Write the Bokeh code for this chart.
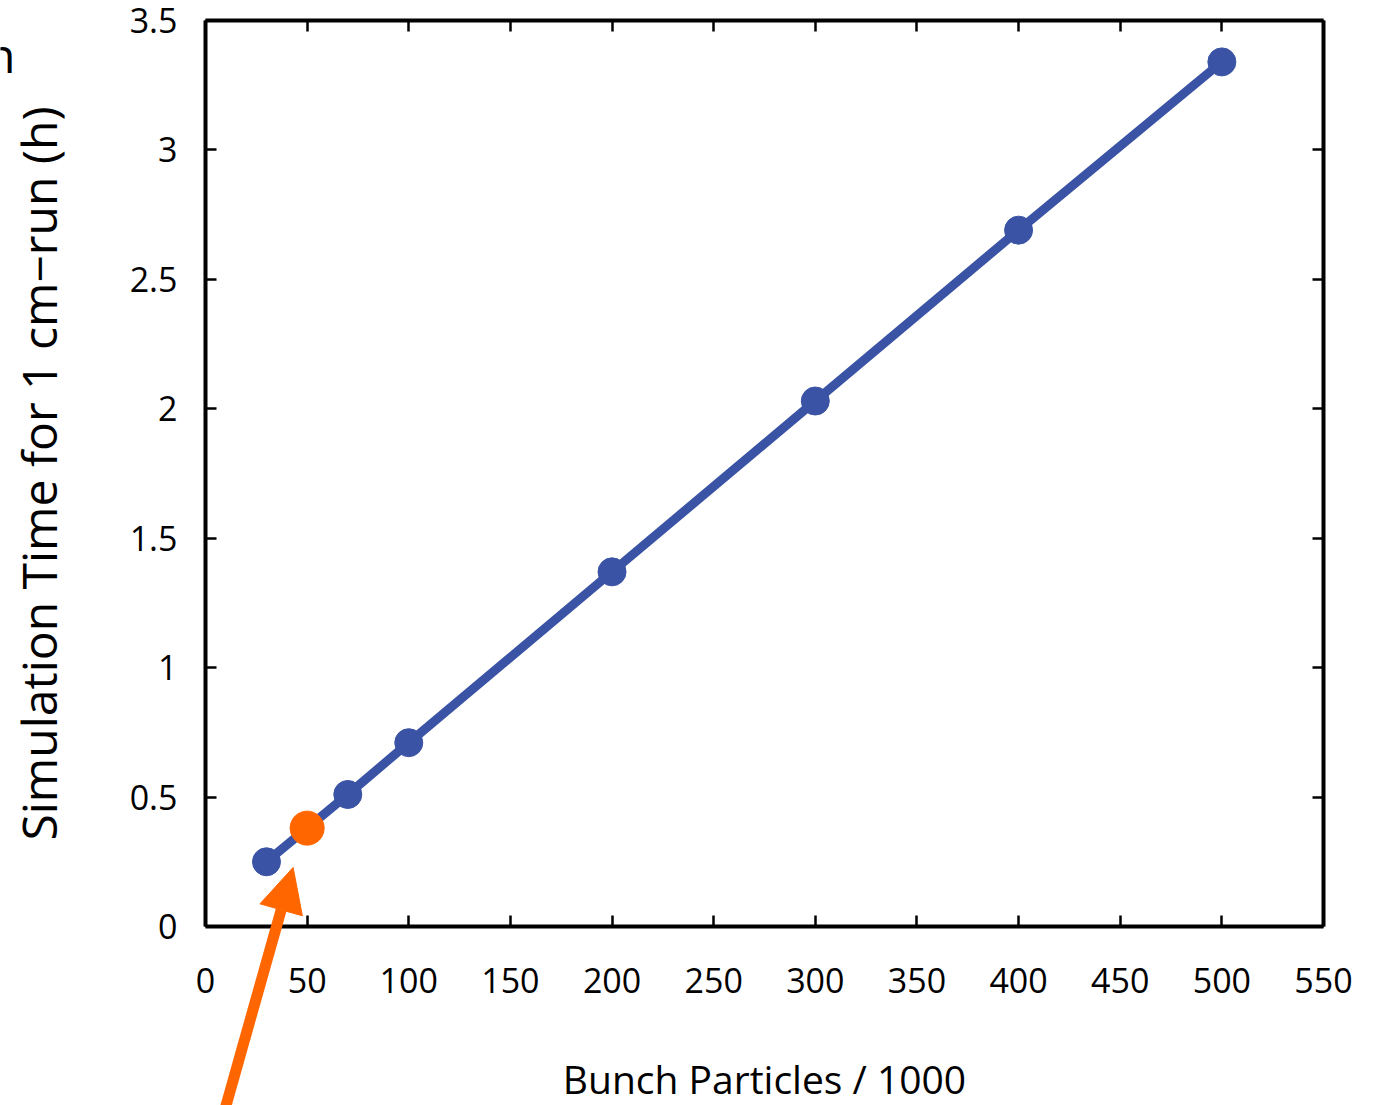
from bokeh.plotting import figure
from bokeh.models import (Range1d, LinearAxis, FixedTicker, Arrow, NormalHead, Label)
from bokeh.embed import file_html
from bokeh.resources import INLINE

# ---- data ----
particles = [30, 70, 100, 200, 300, 400, 500]          # bunch particles / 1000
sim_time = [0.25, 0.51, 0.71, 1.37, 2.03, 2.69, 3.34]   # hours
highlight_x = [50]
highlight_y = [0.38]

x_ticks = [0, 50, 100, 150, 200, 250, 300, 350, 400, 450, 500, 550]
x_tick_labels = ["0", "50", "100", "150", "200", "250", "300", "350", "400", "450", "500", "550"]
y_ticks = [0, 0.5, 1, 1.5, 2, 2.5, 3, 3.5]
y_tick_labels = ["0", "0.5", "1", "1.5", "2", "2.5", "3", "3.5"]

X_MIN, X_MAX = 0, 550
Y_MIN, Y_MAX = 0, 3.5

# arrow annotation (data units): tail below the axis, tip just under the highlighted point
arrow_tail = (9.8, -0.70)
arrow_tip = (43.1, 0.228)

BLUE = "#3A53A4"
ORANGE = "#FF6600"
FONT = "Open Sans"

# the frame spans the whole canvas; the box is drawn by four axes pinned at the data limits
p = figure(width=1376, height=1105, output_backend="svg", toolbar_location=None,
           x_range=Range1d(-100.85, 576.08), y_range=Range1d(-0.6915, 3.5772),
           min_border_left=0, min_border_right=0, min_border_top=0, min_border_bottom=0)
p.xgrid.visible = False
p.ygrid.visible = False
p.outline_line_color = None

def style_axis(ax, ticks, labels, show_labels=True):
    ax.ticker = FixedTicker(ticks=ticks)
    ax.major_label_overrides = {t: l for t, l in zip(ticks, labels)}
    ax.axis_line_width = 4
    ax.axis_line_color = "black"
    ax.major_tick_in = 11
    ax.major_tick_out = 0
    ax.major_tick_line_width = 2.5
    ax.major_tick_line_color = "black"
    ax.minor_tick_line_color = None
    ax.major_label_text_font = FONT
    ax.major_label_text_font_size = "34px"
    if show_labels:
        ax.major_label_text_color = "black"
    else:
        ax.major_label_text_color = None
        ax.major_label_standoff = 0

xb = p.xaxis[0]
yl = p.yaxis[0]
style_axis(xb, x_ticks, x_tick_labels)
style_axis(yl, y_ticks, y_tick_labels)
xb.fixed_location = Y_MIN
xb.bounds = (X_MIN, X_MAX)
yl.fixed_location = X_MIN
yl.bounds = (Y_MIN, Y_MAX)
xb.major_label_standoff = 42
yl.major_label_standoff = 28

xb.axis_label = "Bunch Particles / 1000"
yl.axis_label = "Simulation Time for 1 cm\u2212run (h)"
for ax, fs in ((xb, "39px"), (yl, "48px")):
    ax.axis_label_text_font = FONT
    ax.axis_label_text_font_size = fs
    ax.axis_label_text_font_style = "normal"
    ax.axis_label_text_color = "black"
xb.axis_label_standoff = 55
yl.axis_label_standoff = 56

top_ax = LinearAxis(fixed_location=Y_MAX, bounds=(X_MIN, X_MAX))
style_axis(top_ax, x_ticks, x_tick_labels, show_labels=False)
p.add_layout(top_ax, "above")
right_ax = LinearAxis(fixed_location=X_MAX, bounds=(Y_MIN, Y_MAX))
style_axis(right_ax, y_ticks, y_tick_labels, show_labels=False)
p.add_layout(right_ax, "right")

p.line(particles, sim_time, line_width=9, line_color=BLUE)
p.scatter(particles, sim_time, size=28, fill_color=BLUE, line_color=BLUE)
p.scatter(highlight_x, highlight_y, size=34, fill_color=ORANGE, line_color=ORANGE)

p.add_layout(Arrow(end=NormalHead(size=44, fill_color=ORANGE, line_color=ORANGE),
                   x_start=arrow_tail[0], y_start=arrow_tail[1],
                   x_end=arrow_tip[0], y_end=arrow_tip[1],
                   line_color=ORANGE, line_width=11))

p.add_layout(Label(x=-108.0, y=3.37, text="h", text_font=FONT, text_font_size="48px",
                   text_baseline="alphabetic", text_color="black"))

open("out.html", "w").write(file_html(p, INLINE))
